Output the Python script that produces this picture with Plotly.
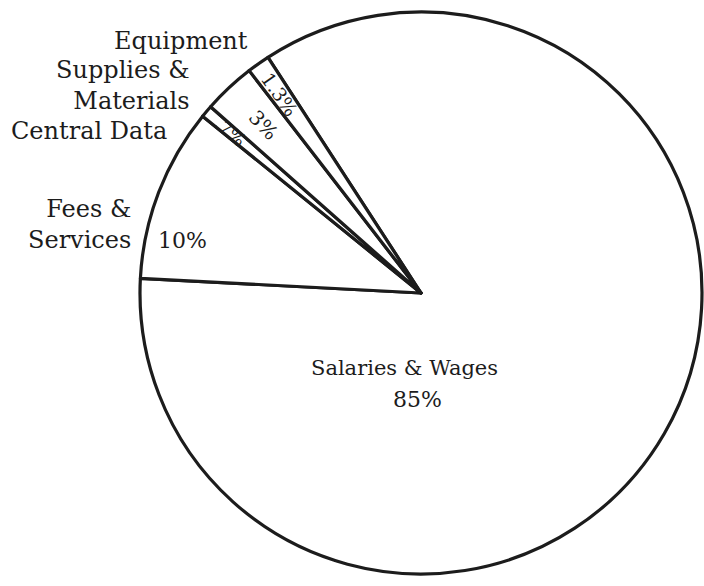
import math
import plotly.graph_objects as go

# ---- data ----
categories = ["Salaries & Wages", "Fees & Services", "Central Data", "Supplies & Materials", "Equipment"]
values = [85, 10, 0.7, 3, 1.3]
pct_labels = ["85%", "10%", ".7%", "3%", "1.3%"]

# ---- layout constants ----
W, H = 704, 586
CX, CY, R = 421, 293, 281          # pie centre / radius in pixels
ROTATION = 327
FONT = "DejaVu Serif"
INK = "#1c1c1c"


def px(x):
    return x / W


def py(y):
    return 1 - y / H


fig = go.Figure(
    go.Pie(
        labels=categories,
        values=values,
        sort=False,
        direction="clockwise",
        rotation=ROTATION,
        marker=dict(colors=["white"] * len(values), line=dict(color=INK, width=3.2)),
        textinfo="none",
        hoverinfo="label+value",
        showlegend=False,
        domain=dict(x=[px(CX - R), px(CX + R)], y=[py(CY + R), py(CY - R)]),
    )
)

ann = []

# percentage labels for the thin top slices: placed at each slice's mid angle
total = sum(values)
start = ROTATION
mids = []
for v in values:
    span = 360 * v / total
    mids.append(start + span / 2)
    start += span

radial_frac = {2: 0.89, 3: 0.82, 4: 0.87}
radial_size = {2: 18, 3: 20, 4: 19}
for i, frac in radial_frac.items():
    th = math.radians(mids[i] % 360)
    x = CX + frac * R * math.sin(th)
    y = CY - frac * R * math.cos(th)
    ann.append(dict(x=px(x), y=py(y), text=pct_labels[i], textangle=(mids[i] % 360) - 270,
                    showarrow=False, xanchor="center", yanchor="middle",
                    font=dict(family=FONT, size=radial_size[i], color=INK)))

# Fees percentage
ann.append(dict(x=px(182), y=py(240), text=pct_labels[1], showarrow=False,
                xanchor="center", yanchor="middle", font=dict(family=FONT, size=22, color=INK)))

# Salaries label
ann.append(dict(x=px(404), y=py(368), text=categories[0], showarrow=False,
                xanchor="center", yanchor="middle", font=dict(family=FONT, size=21, color=INK)))
ann.append(dict(x=px(417), y=py(399), text=pct_labels[0], showarrow=False,
                xanchor="center", yanchor="middle", font=dict(family=FONT, size=22, color=INK)))

# category names on the left (right aligned)
name_blocks = [
    ("Equipment", 250, 41),
    ("Supplies &<br>Materials", 192, 86),
    ("Central Data", 169, 131),
    ("Fees &<br>Services", 133, 224),
]
for t, xr, yc in name_blocks:
    ann.append(dict(x=px(xr), y=py(yc), text=t, showarrow=False, align="right",
                    xanchor="right", yanchor="middle",
                    font=dict(family=FONT, size=24, color=INK)))

fig.update_layout(
    width=W,
    height=H,
    margin=dict(l=0, r=0, t=0, b=0),
    paper_bgcolor="white",
    plot_bgcolor="white",
    annotations=ann,
)

fig.write_html("out.html", config={"displayModeBar": False},
               post_script="document.body.style.margin='0';")
